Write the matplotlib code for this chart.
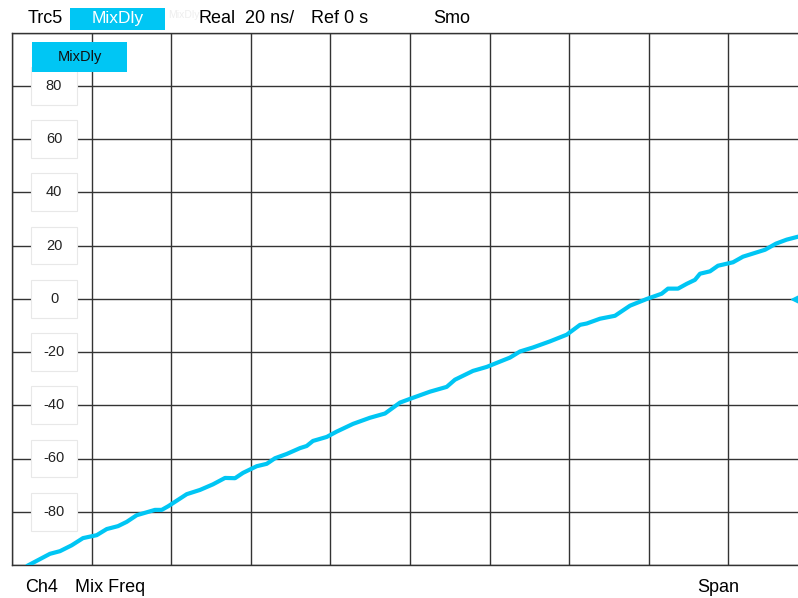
import matplotlib
matplotlib.use("Agg")
import matplotlib.pyplot as plt
from matplotlib.patches import Rectangle

plt.rcParams['font.family'] = ['Liberation Sans', 'DejaVu Sans']

# trace, x in grid divisions (10 div full span), y in ns
x_div = [0.205, 0.477, 0.603, 0.750, 0.892, 1.064, 1.190, 1.332, 1.441, 1.567,
         1.796, 1.881, 1.964, 2.195, 2.362, 2.525, 2.676, 2.802, 2.902, 3.074,
         3.200, 3.304, 3.451, 3.618, 3.702, 3.781, 3.954, 4.079, 4.284, 4.497,
         4.686, 4.874, 5.000, 5.251, 5.461, 5.565, 5.791, 5.964, 6.256, 6.382,
         6.545, 6.759, 6.969, 7.136, 7.220, 7.387, 7.575, 7.764, 7.973, 8.162,
         8.241, 8.367, 8.476, 8.580, 8.643, 8.769, 8.869, 9.058, 9.183, 9.460,
         9.598, 9.732, 9.874, 10.0]
delay = [-100.1, -95.8, -94.8, -92.6, -89.9, -88.8, -86.5, -85.4, -83.8, -81.3,
         -79.3, -79.3, -77.9, -73.4, -71.8, -69.7, -67.3, -67.4, -65.4, -62.9,
         -62.0, -59.9, -58.3, -56.1, -55.3, -53.4, -51.9, -49.9, -47.0, -44.7,
         -43.1, -39.0, -37.6, -34.9, -33.1, -30.4, -27.1, -25.6, -22.1, -19.8,
         -18.3, -16.0, -13.5, -9.8, -9.3, -7.5, -6.4, -2.6, -0.1, 1.9,
         3.8, 3.8, 5.6, 7.1, 9.4, 10.3, 12.4, 13.7, 15.8, 18.4,
         20.7, 22.2, 23.3, 24.0]
y_labels = [80, 60, 40, 20, 0, -20, -40, -60, -80]

W, H = 798, 598
cyan = '#00c6f4'

def fx(px):
    return px / W

def fy(py):
    return 1 - py / H

fig = plt.figure(figsize=(W / 100, H / 100), dpi=100)
# grid area runs off the right edge of the screen
ax = fig.add_axes([fx(12), fy(565), (808 - 12) / W, (565 - 32.5) / H])
ax.set_xlim(0, 10)
ax.set_ylim(-100, 100)
ax.set_xticks(range(0, 11))
ax.set_yticks(range(-100, 101, 20))
ax.tick_params(length=0, labelleft=False, labelbottom=False)
ax.set_axisbelow(True)
ax.grid(True, color='#333333', linewidth=1.0)
for s in ax.spines.values():
    s.set_color('#333333')
    s.set_linewidth(1.0)

# white tick label boxes
for v in y_labels:
    ax.add_patch(Rectangle((0.239, v - 7.1), 0.578, 14.2, facecolor='white',
                           edgecolor='#e8e8e8', linewidth=0.8, zorder=1))
    ax.text(0.528, v, str(v), ha='center', va='center', fontsize=10.5,
            color='#222222', zorder=2)

ax.plot(x_div, delay, color=cyan, linewidth=3, zorder=3, clip_on=True)
ax.plot([9.86], [0], marker='<', color=cyan, markersize=9, clip_on=False, zorder=4)

# in-plot trace box
fig.patches.append(Rectangle((fx(32), fy(72)), 95 / W, 30 / H, facecolor=cyan,
                             edgecolor='none', transform=fig.transFigure, zorder=5))
fig.text(fx(79.5), fy(57), 'MixDly', ha='center', va='center', fontsize=10.5,
         color='#111111', zorder=6)

# header line
fig.patches.append(Rectangle((fx(70), fy(29.5)), 95 / W, 21.5 / H, facecolor=cyan,
                             edgecolor='none', transform=fig.transFigure, zorder=5))
fig.text(fx(117.5), fy(18.5), 'MixDly', ha='center', va='center', fontsize=12.5,
         color='white', zorder=6)
fig.text(fx(168), fy(15), 'MixDly', ha='left', va='center', fontsize=7.5,
         color='#eeeeee', zorder=4)
fig.text(fx(28), fy(18.5), 'Trc5', ha='left', va='center', fontsize=13)
fig.text(fx(198), fy(18.5), 'Real', ha='left', va='center', fontsize=13)
fig.text(fx(245), fy(18.5), '20 ns/', ha='left', va='center', fontsize=13)
fig.text(fx(311), fy(18.5), 'Ref 0 s', ha='left', va='center', fontsize=13)
fig.text(fx(433), fy(18.5), 'Smo', ha='left', va='center', fontsize=13)

# footer
fig.text(fx(25), fy(587), 'Ch4', ha='left', va='center', fontsize=13)
fig.text(fx(75), fy(587), 'Mix Freq', ha='left', va='center', fontsize=13)
fig.text(fx(697), fy(587), 'Span', ha='left', va='center', fontsize=13)

fig.savefig('out.png', dpi=100, facecolor='white')
